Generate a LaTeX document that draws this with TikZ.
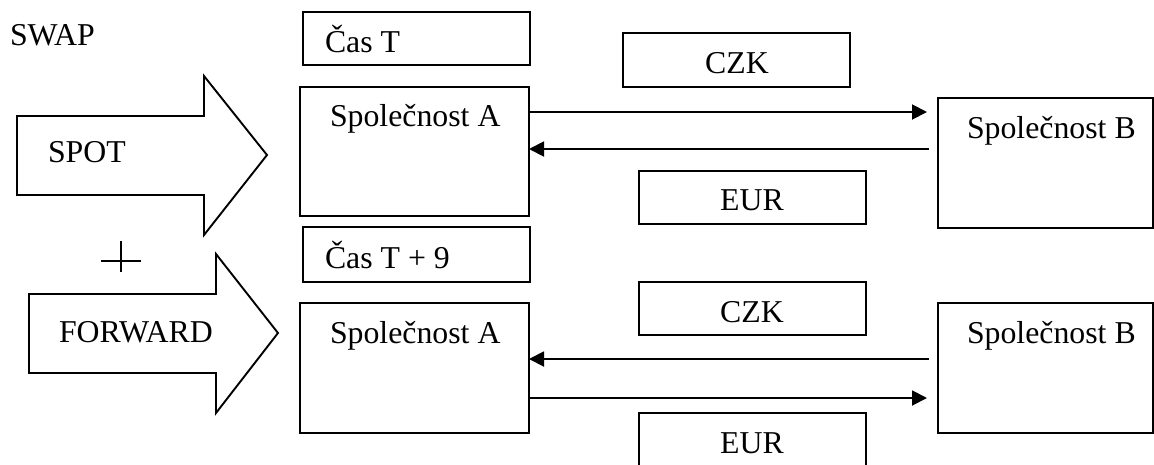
\documentclass[tikz,border=0pt]{standalone}
\usepackage{fontspec}
\setmainfont{Liberation Serif}
\usetikzlibrary{arrows.meta}
\begin{document}
\begin{tikzpicture}[x=1pt,y=-1pt,
  box/.style={draw, line width=1.9pt, inner sep=0pt, outer sep=0pt, anchor=north west},
  txt/.style={font=\fontsize{31.8}{36}\selectfont, inner sep=0pt, outer sep=0pt},
  blockarrow/.style={draw, line width=1.9pt, line join=miter},
  conn/.style={line width=1.9pt, -{Triangle[length=15pt,width=15pt]}}]
\useasboundingbox (0,0) rectangle (1154,464);
\clip (0,0) rectangle (1154,464);

% boxes
\node[box, minimum width=227pt, minimum height=53pt]  (casT)  at (303,12)  {};
\node[box, minimum width=229pt, minimum height=129pt] (A1)    at (300,87)  {};
\node[box, minimum width=227pt, minimum height=54pt]  (czk1)  at (623,33)  {};
\node[box, minimum width=227pt, minimum height=53pt]  (eur1)  at (639,171) {};
\node[box, minimum width=215pt, minimum height=130pt] (B1)    at (938,98)  {};
\node[box, minimum width=227pt, minimum height=55pt]  (casT9) at (303,227) {};
\node[box, minimum width=229pt, minimum height=130pt] (A2)    at (300,303) {};
\node[box, minimum width=227pt, minimum height=53pt]  (czk2)  at (639,282) {};
\node[box, minimum width=227pt, minimum height=56pt]  (eur2)  at (639,413) {};
\node[box, minimum width=215pt, minimum height=130pt] (B2)    at (938,303) {};

% texts
\node[txt, anchor=base west] (swap)   at (10,45)   {SWAP};
\node[txt, anchor=base west] (tcasT)  at (325,52)  {Čas T};
\node[txt, anchor=base west] (tA1)    at (330,126) {Společnost A};
\node[txt, anchor=base]      (tczk1)  at (737,73)  {CZK};
\node[txt, anchor=base]      (teur1)  at (752,210) {EUR};
\node[txt, anchor=base west] (tB1)    at (967,138) {Společnost B};
\node[txt, anchor=base west] (tcasT9) at (325,268) {Čas T + 9};
\node[txt, anchor=base west] (tA2)    at (330,343) {Společnost A};
\node[txt, anchor=base]      (tczk2)  at (752,322) {CZK};
\node[txt, anchor=base]      (teur2)  at (752,453) {EUR};
\node[txt, anchor=base west] (tB2)    at (967,343) {Společnost B};

% block arrows
\draw[blockarrow] (17,116) -- (204,116) -- (204,76) -- (267,155) -- (204,235) -- (204,195) -- (17,195) -- cycle;
\node[txt, anchor=base west] (spot) at (48,162) {SPOT};
\draw[blockarrow] (29,294) -- (216,294) -- (216,254) -- (278,333) -- (216,413) -- (216,373) -- (29,373) -- cycle;
\node[txt, anchor=base west] (fwd) at (59,342) {FORWARD};

% plus sign
\draw[line width=2.6pt] (101,261) -- (141,261);
\draw[line width=2.6pt] (121,241) -- (121,272);

% connectors
\coordinate (r1) at (0,112);
\coordinate (r2) at (0,149);
\coordinate (r3) at (0,359);
\coordinate (r4) at (0,398);
\draw[conn, shorten >=11pt] (A1.east |- r1) -- (B1.west |- r1);
\draw[conn, shorten <=9pt]  (B1.west |- r2) -- (A1.east |- r2);
\draw[conn, shorten <=9pt]  (B2.west |- r3) -- (A2.east |- r3);
\draw[conn, shorten >=11pt] (A2.east |- r4) -- (B2.west |- r4);
\end{tikzpicture}
\end{document}
